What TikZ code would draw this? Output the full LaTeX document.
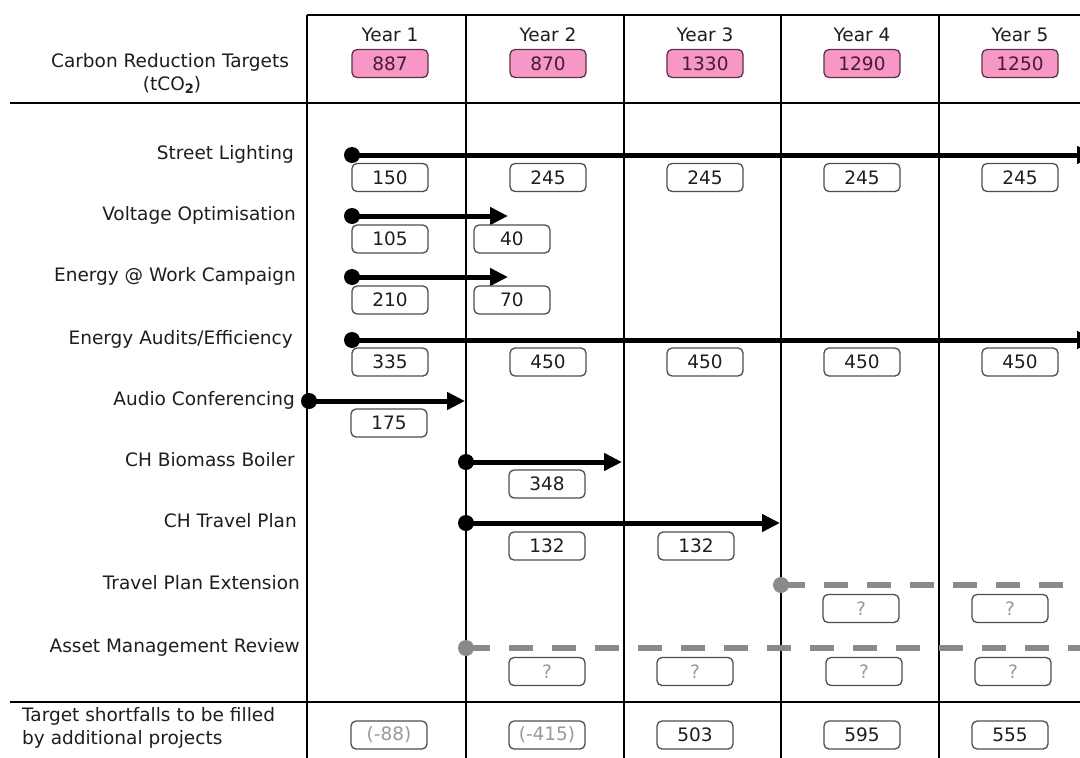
\documentclass[tikz,border=0pt]{standalone}
\usepackage{fontspec}
\setmainfont{DejaVu Sans}
\usetikzlibrary{arrows.meta}
\definecolor{pinkfill}{HTML}{F797C6}
\definecolor{pinkborder}{HTML}{5A3445}
\definecolor{pinktxt}{HTML}{4A1A33}
\definecolor{boxline}{HTML}{4D4D4D}
\definecolor{txt}{HTML}{1E1E1E}
\definecolor{dashgray}{HTML}{8A8A8A}
\definecolor{qgray}{HTML}{9A9A9A}
\begin{document}
\begin{tikzpicture}[x=1pt,y=-1pt,
  font=\fontsize{18.5}{22}\selectfont,
  gridline/.style={line width=1.3pt, black},
  valbox/.style={draw=boxline, line width=1.3pt, rounded corners=5pt, minimum width=76pt, minimum height=28pt, inner sep=0pt, text=txt, fill=white},
  tgtbox/.style={valbox, fill=pinkfill, text=pinktxt, draw=pinkborder},
  qbox/.style={valbox, text=qgray},
  rowlabel/.style={anchor=base east, inner sep=0pt, text=txt},
  plainlabel/.style={anchor=base, inner sep=0pt, text=txt},
  blackdot/.style={circle, fill=black, minimum size=16pt, inner sep=0pt},
  graydot/.style={circle, fill=dashgray, minimum size=16pt, inner sep=0pt},
  bar/.style={line width=5pt, black, -{Triangle[length=18pt,width=17pt]}},
  dbar/.style={line width=6pt, dashgray, dash pattern=on 23.5pt off 19.5pt},
]
\useasboundingbox (0,0) rectangle (1080,758);
\clip (0,0) rectangle (1080,758);
\fill[white] (0,0) rectangle (1080,758);

% grid
\foreach \gx in {307,466,624,781,939} {\draw[gridline] (\gx,15) -- (\gx,760);}
\draw[gridline] (307,15) -- (1082,15);
\draw[gridline] (10,103) -- (1082,103);
\draw[gridline] (10,702) -- (1082,702);

% header
\node[plainlabel] (hdrA) at (170,67) {Carbon Reduction Targets};
\node[plainlabel] (hdrB) at (172,90) {(tCO\raisebox{-0.35ex}{\fontsize{13}{13}\selectfont\bfseries 2})};
\node[plainlabel] (yr1) at (390,41) {Year 1};
\node[plainlabel] (yr2) at (548,41) {Year 2};
\node[plainlabel] (yr3) at (705,41) {Year 3};
\node[plainlabel] (yr4) at (862,41) {Year 4};
\node[plainlabel] (yr5) at (1020,41) {Year 5};
\node[tgtbox] (tg1) at (390,63.5) {887};
\node[tgtbox] (tg2) at (548,63.5) {870};
\node[tgtbox] (tg3) at (705,63.5) {1330};
\node[tgtbox] (tg4) at (862,63.5) {1290};
\node[tgtbox] (tg5) at (1020,63.5) {1250};

% row labels
\node[rowlabel] (lSL) at (294,159.5) {Street Lighting};
\node[rowlabel] (lVO) at (296,220.5) {Voltage Optimisation};
\node[rowlabel] (lEW) at (296,281.5) {Energy @ Work Campaign};
\node[rowlabel] (lEA) at (293,344.5) {Energy Audits/Efficiency};
\node[rowlabel] (lAC) at (295,405.5) {Audio Conferencing};
\node[rowlabel] (lCB) at (295,466.5) {CH Biomass Boiler};
\node[rowlabel] (lCT) at (297,527.5) {CH Travel Plan};
\node[rowlabel] (lTP) at (300,589.5) {Travel Plan Extension};
\node[rowlabel] (lAM) at (300,652.5) {Asset Management Review};

% dashed bars
\node[graydot] (gTP) at (781,585) {};
\coordinate (eTP) at (1100,585);
\draw[dbar] (gTP.center) -- (eTP);
\node[graydot] (gAM) at (466,648) {};
\coordinate (eAM) at (1100,648);
\draw[dbar] (gAM.center) -- (eAM);

% solid bars
\node[blackdot] (dSL) at (352,155) {};
\coordinate (eSL) at (1095,155);
\draw[bar] (dSL.center) -- (eSL);
\node[blackdot] (dVO) at (352,216) {};
\coordinate (eVO) at (508,216);
\draw[bar] (dVO.center) -- (eVO);
\node[blackdot] (dEW) at (352,277) {};
\coordinate (eEW) at (508,277);
\draw[bar] (dEW.center) -- (eEW);
\node[blackdot] (dEA) at (352,340) {};
\coordinate (eEA) at (1095,340);
\draw[bar] (dEA.center) -- (eEA);
\node[blackdot] (dAC) at (309,401) {};
\coordinate (eAC) at (465,401);
\draw[bar] (dAC.center) -- (eAC);
\node[blackdot] (dCB) at (466,462) {};
\coordinate (eCB) at (622,462);
\draw[bar] (dCB.center) -- (eCB);
\node[blackdot] (dCT) at (466,523) {};
\coordinate (eCT) at (780,523);
\draw[bar] (dCT.center) -- (eCT);

% value boxes
\node[valbox] (sl1) at (390,177.5) {150};
\node[valbox] (sl2) at (548,177.5) {245};
\node[valbox] (sl3) at (705,177.5) {245};
\node[valbox] (sl4) at (862,177.5) {245};
\node[valbox] (sl5) at (1020,177.5) {245};
\node[valbox] (vo1) at (390,239) {105};
\node[valbox] (vo2) at (512,239) {40};
\node[valbox] (ew1) at (390,300) {210};
\node[valbox] (ew2) at (512,300) {70};
\node[valbox] (ea1) at (390,362) {335};
\node[valbox] (ea2) at (548,362) {450};
\node[valbox] (ea3) at (705,362) {450};
\node[valbox] (ea4) at (862,362) {450};
\node[valbox] (ea5) at (1020,362) {450};
\node[valbox] (ac1) at (389,423) {175};
\node[valbox] (cb2) at (547,484) {348};
\node[valbox] (ct2) at (547,546) {132};
\node[valbox] (ct3) at (696,546) {132};
\node[qbox] (tp4) at (861,608.5) {?};
\node[qbox] (tp5) at (1010,608.5) {?};
\node[qbox] (am2) at (547,671.5) {?};
\node[qbox] (am3) at (695,671.5) {?};
\node[qbox] (am4) at (864,671.5) {?};
\node[qbox] (am5) at (1013,671.5) {?};

% bottom row
\node[anchor=base west, inner sep=0pt, text=txt] (bt1) at (22,721) {Target shortfalls to be filled};
\node[anchor=base west, inner sep=0pt, text=txt] (bt2) at (22,744) {by additional projects};
\node[qbox] (sf1) at (389,735) {(-88)};
\node[qbox] (sf2) at (547,735) {(-415)};
\node[valbox] (sf3) at (695,735) {503};
\node[valbox] (sf4) at (862,735) {595};
\node[valbox] (sf5) at (1010,735) {555};
\end{tikzpicture}
\end{document}
